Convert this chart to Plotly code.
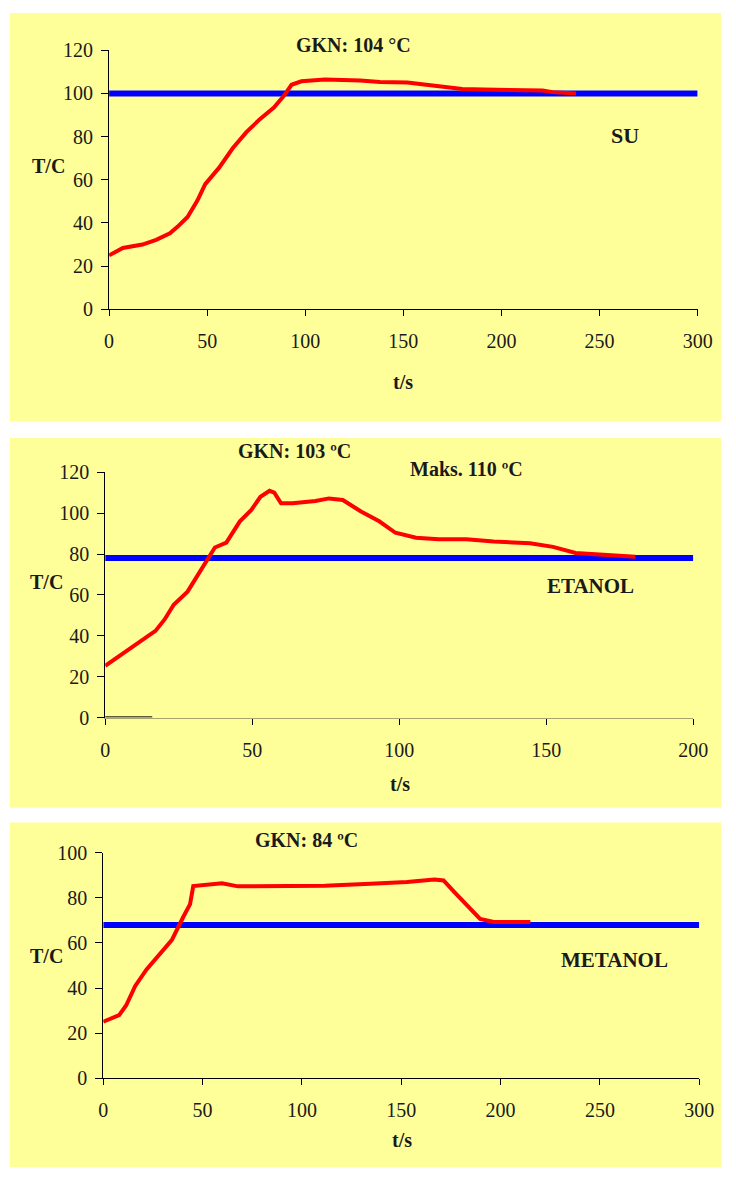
import plotly.graph_objects as go

W, H = 736, 1180

# ---------------- data ----------------
su_t = [0, 7, 17, 24, 31, 35, 40, 45, 49, 56, 63, 70, 77, 84, 89, 93, 98, 103, 110, 128, 138, 152, 168, 180, 191, 221, 226, 238]
su_T = [25, 28.4, 30, 32.2, 35.2, 38.3, 42.8, 50.4, 58, 65.5, 74.6, 82.1, 88.2, 93.5, 98.8, 104, 105.6, 106, 106.4, 106, 105.3, 105.1, 103.3, 102.1, 101.8, 101.4, 100.6, 100]
su_bp_t = [0, 300]
su_bp_T = [100, 100]

et_t = [0, 5.9, 12.4, 17.1, 20.2, 23.3, 28, 32.6, 37.3, 41.2, 45.8, 49.7, 52.8, 55.9, 57.5, 59.8, 63.7, 71.5, 76.1, 80.8, 87, 93.2, 98.7, 105.7, 113.4, 122.8, 132.1, 144.5, 152.3, 160, 167.8, 180.3]
et_T = [25.3, 31.2, 37.6, 42.4, 48, 55.2, 61.6, 72, 83.2, 85.6, 96, 101.6, 108, 110.9, 110, 104.8, 104.8, 105.9, 107.2, 106.4, 100.8, 96, 90.4, 88, 87.2, 87.2, 86.1, 85.3, 83.5, 80.5, 79.7, 78.7]
et_bp_t = [0, 200]
et_bp_T = [78, 78]
et_zero_t = [0, 16]
et_zero_T = [0, 0]

me_t = [0, 8, 11.5, 16.1, 21.8, 28.7, 34.5, 40.2, 43.7, 45.3, 51.7, 59.8, 67.8, 88.5, 111.5, 134.5, 152.9, 166.7, 171.3, 177, 182.8, 189.7, 196.6, 215]
me_T = [25.1, 28, 32.3, 41, 48.3, 55.5, 61.3, 71.4, 77.2, 85.2, 85.7, 86.5, 85.1, 85.1, 85.4, 86.2, 87, 88.1, 87.7, 82.3, 77.2, 70.7, 69.3, 69.3]
me_bp_t = [0, 300]
me_bp_T = [68, 68]

y_ticks_1 = [0, 20, 40, 60, 80, 100, 120]
x_ticks_1 = [0, 50, 100, 150, 200, 250, 300]
y_ticks_2 = [0, 20, 40, 60, 80, 100, 120]
x_ticks_2 = [0, 50, 100, 150, 200]
y_ticks_3 = [0, 20, 40, 60, 80, 100]
x_ticks_3 = [0, 50, 100, 150, 200, 250, 300]

# ---------------- helpers ----------------
def fx(px):
    return px / W

def fy(py):
    return 1 - py / H

YELLOW = "#FFFF99"
RED = "#FF0000"
BLUE = "#0000FF"
TXT = "#1a1a1a"
SERIF = "Liberation Serif, Times New Roman, serif"

fig = go.Figure()

def add(x, y, color, width, xa, ya):
    fig.add_trace(go.Scatter(x=x, y=y, mode="lines", line=dict(color=color, width=width),
                             xaxis=xa, yaxis=ya, showlegend=False, hoverinfo="skip"))

add(su_bp_t, su_bp_T, BLUE, 6, "x", "y")
add(su_t, su_T, RED, 4, "x", "y")
add(et_zero_t, et_zero_T, "#5a5a3a", 3, "x2", "y2")
add(et_bp_t, et_bp_T, BLUE, 6, "x2", "y2")
add(et_t, et_T, RED, 4, "x2", "y2")
add(me_bp_t, me_bp_T, BLUE, 6, "x3", "y3")
add(me_t, me_T, RED, 4, "x3", "y3")

def xax(dom, rng, ticks, anchor, linecolor="black"):
    return dict(domain=dom, range=rng, tickvals=ticks, anchor=anchor, showgrid=False,
                zeroline=False, showline=True, linecolor=linecolor, linewidth=1,
                ticks="outside", ticklen=6, tickcolor="black", ticklabelstandoff=8,
                tickfont=dict(family=SERIF, size=20, color=TXT), fixedrange=True)

def yax(dom, rng, ticks, anchor):
    return dict(domain=dom, range=rng, tickvals=ticks, anchor=anchor, showgrid=False,
                zeroline=False, showline=True, linecolor="black", linewidth=1,
                ticks="outside", ticklen=7, tickcolor="black", ticklabelstandoff=4,
                tickfont=dict(family=SERIF, size=20, color=TXT), fixedrange=True)

# pixel geometry of each plot area
p1 = dict(x0=107, x1=712, y0=304, y1=40)
p2 = dict(x0=103, x1=707.5, y0=720, y1=470)
p3 = dict(x0=101, x1=713.6, y0=1087.7, y1=857.7)

fig.update_layout(
    autosize=True,
    margin=dict(l=0, r=0, t=0, b=0),
    paper_bgcolor="white",
    plot_bgcolor="rgba(0,0,0,0)",
    xaxis=xax([fx(p1["x0"]), fx(p1["x1"])], [0, 300], x_ticks_1, "y"),
    yaxis=yax([fy(p1["y0"]), fy(p1["y1"])], [0, 120], y_ticks_1, "x"),
    xaxis2=xax([fx(p2["x0"]), fx(p2["x1"])], [0, 200], x_ticks_2, "y2", linecolor="#a8a46c"),
    yaxis2=yax([fy(p2["y0"]), fy(p2["y1"])], [0, 120], y_ticks_2, "x2"),
    xaxis3=xax([fx(p3["x0"]), fx(p3["x1"])], [0, 300], x_ticks_3, "y3"),
    yaxis3=yax([fy(p3["y0"]), fy(p3["y1"])], [0, 100], y_ticks_3, "x3"),
)

# yellow panels
for (top, bot) in [(2, 418), (435, 812), (827, 1178)]:
    fig.add_shape(type="rect", xref="paper", yref="paper", x0=fx(5), x1=1, y0=fy(bot), y1=fy(top),
                  fillcolor=YELLOW, line=dict(width=0), layer="below")

def label(text, cx, cy, size=20, bold=True):
    fig.add_annotation(text=("<b>%s</b>" % text) if bold else text, x=fx(cx), y=fy(cy),
                       xref="paper", yref="paper", showarrow=False, xanchor="center", yanchor="middle",
                       font=dict(family=SERIF, size=size, color=TXT))

# panel 1
label("GKN: 104 °C", 358, 35)
label("SU", 637, 127, size=22)
label("T/C", 45, 158)
label("t/s", 409, 378)
# panel 2
label("GKN: 103 ºC", 298, 448)
label("Maks. 110 ºC", 474, 467)
label("ETANOL", 602, 586, size=21)
label("T/C", 43, 582)
label("t/s", 406, 788)
# panel 3
label("GKN: 84 ºC", 310, 845)
label("METANOL", 627, 967, size=21)
label("T/C", 43, 963)
label("t/s", 408, 1150)

fig.write_html("out.html",
               config={"displayModeBar": False, "responsive": True},
               default_width="100vw", default_height="100vh",
               post_script="document.body.style.margin='0';document.body.style.overflow='hidden';")
